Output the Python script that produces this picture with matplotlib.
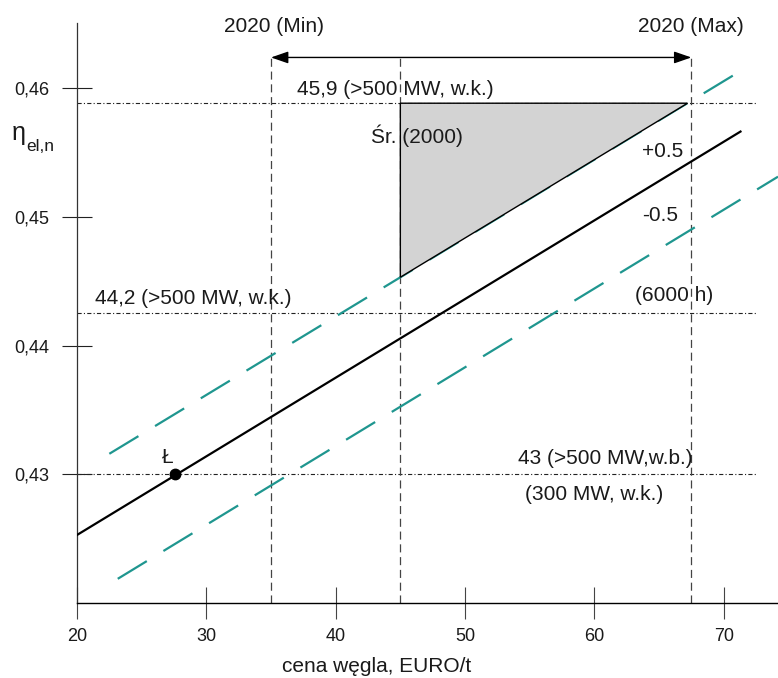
import numpy as np
import matplotlib.pyplot as plt
from matplotlib.patches import Polygon

plt.rcParams['font.family'] = ['Liberation Sans', 'DejaVu Sans']
plt.rcParams['lines.scale_dashes'] = False

# osie
x_ticks = [20, 30, 40, 50, 60, 70]
y_ticks = [0.43, 0.44, 0.45, 0.46]
y_tick_labels = ['0,43', '0,44', '0,45', '0,46']
x_lim = (20, 74.2)
y_lim = (0.42, 0.465)

# sprawność vs cena węgla (linia główna i pasmo +/-0.5)
line_x = [20, 71.3]
line_y = [0.4253, 0.4566]
upper_x = [22.5, 71.3]
upper_y = [0.4316, 0.4613]
lower_x = [23.15, 74.2]
lower_y = [0.4219, 0.4531]

# punkt Ł
point_x = 27.6
point_y = 0.43

# poziomy odniesienia (45,9 / 44,2 / 43)
h_levels = [0.4588, 0.4425, 0.43]
h_end = 72.5

# ceny węgla: 2020 (Min), Śr. (2000), 2020 (Max)
v_prices = [35, 45, 67.5]
v_top = 0.46235

# obszar zacieniony
tri_x = [45, 67.2, 45]
tri_y = [0.4588, 0.4588, 0.4453]

TEAL = '#1f968f'
TXT = '#1a1a1a'

fig = plt.figure(figsize=(7.78, 6.78), dpi=100)
ax = fig.add_axes([77 / 778, 1 - 603.3 / 678, 1 - 77 / 778, 580 / 678])
ax.set_xlim(*x_lim)
ax.set_ylim(*y_lim)

# linie pomocnicze
for y in h_levels:
    ax.plot([x_lim[0], h_end], [y, y], color='#222222', lw=0.8,
            dashes=(3.0, 1.6, 0.8, 1.6), zorder=1)
for x in v_prices:
    ax.plot([x, x], [y_lim[0], v_top], color='#444444', lw=0.9,
            dashes=(5.8, 3.4), zorder=1, clip_on=False)

# pasmo
ax.plot(upper_x, upper_y, color=TEAL, lw=1.6, dashes=(24.5, 14), zorder=2)
ax.plot(lower_x, lower_y, color=TEAL, lw=1.6, dashes=(24.5, 14), zorder=2)

tri = Polygon(np.column_stack([tri_x, tri_y]), closed=True,
              facecolor='#d3d3d3', edgecolor='black', lw=1.0, zorder=3)
ax.add_patch(tri)

ax.plot(line_x, line_y, color='black', lw=1.6, zorder=4)
ax.plot([point_x], [point_y], 'o', color='black', ms=7.5, zorder=5)

# strzałka 2020 Min - Max
ax.annotate('', xy=(v_prices[2], v_top), xytext=(v_prices[0], v_top),
            arrowprops=dict(arrowstyle='<|-|>,head_length=0.75,head_width=0.26',
                            color='black', lw=1.0, shrinkA=0, shrinkB=0,
                            mutation_scale=14),
            annotation_clip=False)

fs = 15
def label(x, y, s, ha='left', size=fs):
    ax.text(x, y, s, ha=ha, va='baseline', fontsize=size, color=TXT,
            clip_on=False)

label(35.26, 0.46431, '2020 (Min)', ha='center')
label(67.47, 0.46431, '2020 (Max)', ha='center')
label(36.99, 0.45946, '45,9 (>500 MW, w.k.)')
label(42.74, 0.4557, 'Śr. (2000)')
label(63.67, 0.45462, '+0.5')
label(63.67, 0.44965, '-0.5')
label(21.39, 0.44324, '44,2 (>500 MW, w.k.)')
label(63.16, 0.44344, '(6000 h)')
label(54.13, 0.43083, '43 (>500 MW,w.b.)')
label(54.65, 0.42798, '(300 MW, w.k.)')
label(27.04, 0.43091, 'Ł', ha='center')
label(14.97, 0.45591, 'η', size=18)
label(16.06, 0.45506, 'el,n', size=12.5)
label(43.16, 0.41464, 'cena węgla, EURO/t', ha='center')

# osie i znaczniki
ax.spines['top'].set_visible(False)
ax.spines['right'].set_visible(False)
ax.spines['left'].set_color('#333333')
ax.spines['left'].set_linewidth(0.9)
ax.spines['bottom'].set_linewidth(1.0)
ax.set_xticks(x_ticks)
ax.set_xticklabels([str(v) for v in x_ticks])
ax.set_yticks(y_ticks)
ax.set_yticklabels(y_tick_labels)
ax.tick_params(axis='x', direction='inout', length=23, width=0.8,
               color='#444444', pad=6.0, labelsize=13, labelcolor=TXT)
ax.tick_params(axis='y', direction='inout', length=22.3, width=0.8,
               color='#222222', pad=8.5, labelsize=13, labelcolor=TXT)

fig.savefig('out.png', dpi=100)
